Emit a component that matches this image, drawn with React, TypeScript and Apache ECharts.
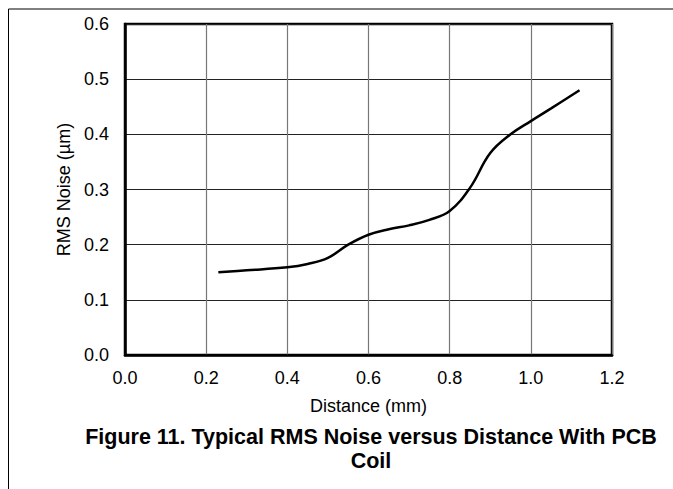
import React, { useEffect, useRef } from "react";
import * as echarts from "echarts";

const distance = [0.23, 0.3, 0.4, 0.45, 0.5, 0.55, 0.6, 0.65, 0.7, 0.75, 0.8, 0.85, 0.9, 0.95, 1.0, 1.05, 1.12];
const noise = [0.15, 0.1535, 0.159, 0.165, 0.176, 0.2, 0.218, 0.228, 0.235, 0.245, 0.261, 0.303, 0.366, 0.4, 0.424, 0.447, 0.48];
const titleLines = ["Figure 11. Typical RMS Noise versus Distance With PCB", "Coil"];
const xName = "Distance (mm)";
const yName = "RMS Noise (µm)";

const FONT = "'Liberation Sans', Arial, sans-serif";

export default function App() {
  const ref = useRef<HTMLDivElement>(null);
  useEffect(() => {
    if (!ref.current) return;
    const chart = echarts.init(ref.current, null, { renderer: "svg" });
    chart.setOption({
      animation: false,
      backgroundColor: "#fff",
      grid: {
        left: 125,
        top: 24,
        right: 61,
        bottom: 134,
        show: true,
        borderColor: "#000",
        borderWidth: 2.5,
        backgroundColor: "transparent",
      },
      xAxis: {
        type: "value",
        min: 0,
        max: 1.2,
        interval: 0.2,
        name: xName,
        nameLocation: "middle",
        nameGap: 42,
        nameTextStyle: { fontFamily: FONT, fontSize: 18, color: "#000" },
        axisLine: { show: true, lineStyle: { color: "#000", width: 2.5 } },
        axisTick: { show: false },
        axisLabel: {
          fontFamily: FONT,
          fontSize: 18,
          color: "#000",
          margin: 14,
          formatter: (v: number) => v.toFixed(1),
        },
        splitLine: { show: true, lineStyle: { color: "#777", width: 1.2 } },
      },
      yAxis: {
        type: "value",
        min: 0,
        max: 0.6,
        interval: 0.1,
        name: yName,
        nameLocation: "middle",
        nameGap: 49,
        nameTextStyle: { fontFamily: FONT, fontSize: 18, color: "#000" },
        axisLine: { show: true, lineStyle: { color: "#000", width: 2.5 } },
        axisTick: { show: false },
        axisLabel: {
          fontFamily: FONT,
          fontSize: 18,
          color: "#000",
          margin: 16,
          formatter: (v: number) => v.toFixed(1),
        },
        splitLine: { show: true, lineStyle: { color: "#222", width: 1 } },
      },
      series: [
        {
          type: "line",
          data: distance.map((d, i) => [d, noise[i]]),
          smooth: 0.4,
          showSymbol: false,
          lineStyle: { color: "#000", width: 2.5 },
        },
      ],
      graphic: [
        { type: "line", shape: { x1: 8.5, y1: 9, x2: 8.5, y2: 489 }, style: { stroke: "#000", lineWidth: 1 } },
        { type: "line", shape: { x1: 8.5, y1: 9, x2: 673, y2: 9 }, style: { stroke: "#000", lineWidth: 1 } },
        {
          type: "text",
          x: 371,
          y: 425,
          style: {
            text: titleLines.join("\n"),
            font: `bold 21.5px ${FONT}`,
            fill: "#000",
            textAlign: "center",
            textVerticalAlign: "top",
            lineHeight: 24,
          },
        },
      ],
    });
    return () => chart.dispose();
  }, []);
  return <div ref={ref} style={{ position: "absolute", left: 0, top: 0, width: 673, height: 489 }} />;
}
